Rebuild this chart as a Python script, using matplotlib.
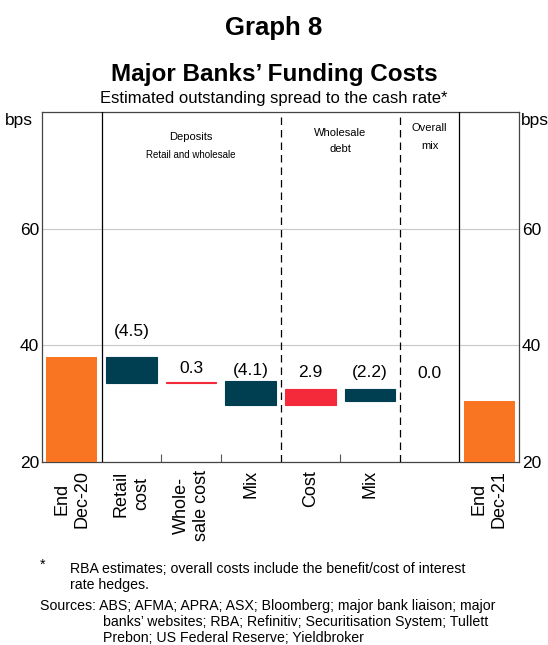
import matplotlib.pyplot as plt

plt.rcParams['font.family'] = ['Liberation Sans', 'DejaVu Sans']

# data
categories = ["End\nDec-20", "Retail\ncost", "Whole-\nsale cost", "Mix",
              "Cost", "Mix", "", "End\nDec-21"]
start_level = 38.0
changes = [-4.5, 0.3, -4.1, 2.9, -2.2, 0.0]
change_labels = ["(4.5)", "0.3", "(4.1)", "2.9", "(2.2)", "0.0"]
end_level = 30.4
yticks = [20, 40, 60]

ORANGE = "#F97522"
TEAL = "#003F51"
RED = "#F42A3A"

fig = plt.figure(figsize=(5.48, 6.45), dpi=100)
ax = fig.add_axes([42 / 548, 1 - 462 / 645, 477 / 548, 350 / 645])

width = 0.85
ax.bar(0, start_level, width=width, bottom=0, color=ORANGE, zorder=3)
ax.bar(7, end_level, width=width, bottom=0, color=ORANGE, zorder=3)

level = start_level
label_pad = [4.4, 2.2, 1.9, 2.8, 2.8, 4.7]
for i, (chg, lab) in enumerate(zip(changes, change_labels)):
    x = i + 1
    new_level = level + chg
    lo, hi = min(level, new_level), max(level, new_level)
    if chg != 0:
        col = RED if chg > 0 else TEAL
        ax.bar(x, hi - lo, width=width, bottom=lo, color=col,
               edgecolor=col, lw=0.8, zorder=3)
    ax.text(x, hi + label_pad[i], lab, ha='center', va='center', fontsize=12.5)
    level = new_level

ax.set_xlim(-0.5, 7.5)
ax.set_ylim(20, 80)

# section dividers
ax.axvline(0.5, color='black', lw=0.9, zorder=4)
ax.axvline(6.5, color='black', lw=0.9, zorder=4)
ax.axvline(3.5, color='black', lw=0.9, ls=(0, (6, 4)), zorder=4)
ax.axvline(5.5, color='black', lw=0.9, ls=(0, (6, 4)), zorder=4)

ax.text(2, 75.7, "Deposits", ha='center', va='center', fontsize=8)
ax.text(2, 72.6, "Retail and wholesale", ha='center', va='center', fontsize=7)
ax.text(4.5, 76.4, "Wholesale", ha='center', va='center', fontsize=8)
ax.text(4.5, 73.6, "debt", ha='center', va='center', fontsize=8)
ax.text(6, 77.2, "Overall", ha='center', va='center', fontsize=8)
ax.text(6, 74.1, "mix", ha='center', va='center', fontsize=8)

# axes styling
ax.set_yticks(yticks)
ax.set_yticklabels([str(t) for t in yticks])
ax.tick_params(axis='y', length=0, labelsize=12.5, pad=2,
               right=True, labelright=True)
ax.grid(axis='y', color='#c8c8c8', lw=0.8, zorder=0)
ax.set_xticks(range(len(categories)))
ax.set_xticklabels(categories, rotation=90, fontsize=13, va='top',
                   ha='center', multialignment='center', linespacing=1.25)
ax.tick_params(axis='x', length=0, pad=6)
ax.set_xticks([1.5, 2.5, 4.5], minor=True)
ax.tick_params(axis='x', which='minor', direction='in', length=6,
               width=0.8, color='#555555')
for sp in ax.spines.values():
    sp.set_color('#444444')
    sp.set_linewidth(0.9)

ax.text(-0.02, 78.6, "bps", transform=ax.get_yaxis_transform(),
        ha='right', va='center', fontsize=12.5)
ax.text(1.004, 78.6, "bps", transform=ax.get_yaxis_transform(),
        ha='left', va='center', fontsize=12.5)

# titles
fig.text(0.5, 1 - 28 / 645, "Graph 8", ha='center', va='center',
         fontsize=18.5, fontweight='bold')
fig.text(0.5, 1 - 74 / 645, "Major Banks\u2019 Funding Costs", ha='center',
         va='center', fontsize=17.5, fontweight='bold')
fig.text(0.5, 1 - 98 / 645, "Estimated outstanding spread to the cash rate*",
         ha='center', va='center', fontsize=12)

# footnotes
fs = 10.2
fig.text(40 / 548, 1 - 565 / 645, "*", ha='left', va='center', fontsize=fs)
fig.text(70 / 548, 1 - 569 / 645,
         "RBA estimates; overall costs include the benefit/cost of interest",
         ha='left', va='center', fontsize=fs)
fig.text(70 / 548, 1 - 585 / 645, "rate hedges.", ha='left', va='center',
         fontsize=fs)
fig.text(40 / 548, 1 - 606 / 645,
         "Sources: ABS; AFMA; APRA; ASX; Bloomberg; major bank liaison; major",
         ha='left', va='center', fontsize=fs)
fig.text(103 / 548, 1 - 622 / 645,
         "banks\u2019 websites; RBA; Refinitiv; Securitisation System; Tullett",
         ha='left', va='center', fontsize=fs)
fig.text(103 / 548, 1 - 638 / 645,
         "Prebon; US Federal Reserve; Yieldbroker",
         ha='left', va='center', fontsize=fs)

fig.savefig("out.png", dpi=100)
